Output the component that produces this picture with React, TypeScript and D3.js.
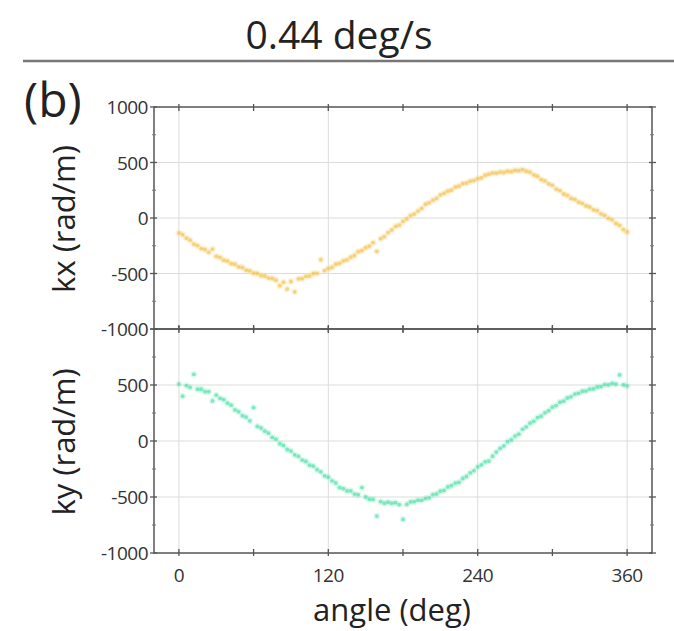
import React from 'react';
import * as d3 from 'd3';

const angles = [
  0, 3, 6, 9, 12, 15, 18, 21, 24, 27, 30, 33, 36, 39, 42, 45, 48, 51, 54, 57,
  60, 63, 66, 69, 72, 75, 78, 81, 84, 87, 90, 93, 96, 99, 102, 105, 108, 111, 114, 117,
  120, 123, 126, 129, 132, 135, 138, 141, 144, 147, 150, 153, 156, 159, 162, 165, 168, 171, 174, 177,
  180, 183, 186, 189, 192, 195, 198, 201, 204, 207, 210, 213, 216, 219, 222, 225, 228, 231, 234, 237,
  240, 243, 246, 249, 252, 255, 258, 261, 264, 267, 270, 273, 276, 279, 282, 285, 288, 291, 294, 297,
  300, 303, 306, 309, 312, 315, 318, 321, 324, 327, 330, 333, 336, 339, 342, 345, 348, 351, 354, 357,
  360,
];

const kxValues = [
  -135, -150, -182, -200, -236, -248, -275, -284, -309, -280, -345, -356, -380, -388, -412, -416, -440, -446, -470, -476,
  -497, -500, -520, -522, -541, -545, -560, -610, -578, -640, -572, -665, -548, -547, -525, -522, -500, -498, -375, -474,
  -455, -445, -416, -408, -386, -378, -352, -338, -304, -293, -268, -253, -221, -300, -186, -168, -131, -108, -76, -65,
  -31, -8, 22, 35, 62, 86, 124, 137, 161, 176, 209, 222, 242, 252, 279, 287, 309, 315, 332, 337,
  354, 362, 386, 395, 407, 403, 414, 410, 422, 417, 429, 426, 436, 421, 414, 388, 376, 346, 334, 308,
  294, 261, 247, 216, 204, 176, 167, 143, 132, 108, 99, 74, 66, 38, 24, -4, -16, -49, -66, -104,
  -126,
];

const kyValues = [
  508, 400, 495, 478, 595, 462, 463, 440, 441, 358, 410, 380, 370, 338, 320, 278, 262, 226, 214, 180,
  298, 130, 116, 88, 70, 32, 16, -24, -40, -76, -90, -124, -137, -170, -183, -216, -224, -256, -275, -311,
  -323, -356, -375, -416, -425, -446, -446, -474, -480, -416, -500, -520, -522, -670, -541, -556, -546, -555, -551, -568,
  -700, -566, -544, -542, -528, -530, -513, -507, -478, -473, -448, -442, -410, -399, -376, -370, -335, -317, -284, -265,
  -231, -214, -186, -179, -136, -99, -66, -44, -6, 11, 44, 61, 104, 126, 159, 176, 209, 221, 252, 271,
  302, 316, 346, 356, 384, 394, 419, 426, 444, 446, 464, 465, 482, 486, 504, 502, 514, 508, 590, 502,
  493,
];

const xTickLabels = [0, 120, 240, 360];
const xTicks = [0, 60, 120, 180, 240, 300, 360];
const yMajorTicks = [1000, 500, 0, -500, -1000];
const yMinorTicks = [750, 250, -250, -750];
const yGrid = [500, 0, -500];
const topLabels = [1000, 500, 0, -500, -1000];
const bottomLabels = [500, 0, -500, -1000];

const titleText = '0.44 deg/s';
const panelTag = '(b)';
const kxLabel = 'kx (rad/m)';
const kyLabel = 'ky (rad/m)';
const xLabel = 'angle (deg)';

const W = 674;
const H = 631;
const FONT = "'Open Sans', 'DejaVu Sans', sans-serif";

const x = d3.scaleLinear().domain([-20, 380]).range([154, 652]);

function Panel({ top, bottom, values, color, halo, labels }) {
  const y = d3.scaleLinear().domain([-1000, 1000]).range([bottom, top]);
  const [x0, x1] = x.range();
  const pts = angles.map((a, i) => [a, values[i]]);
  return (
    <g>
      {xTickLabels.map((t) => (
        <line key={'gx' + t} x1={x(t)} x2={x(t)} y1={top} y2={bottom} stroke="#dcdcdc" strokeWidth={1} />
      ))}
      {yGrid.map((t) => (
        <line key={'gy' + t} x1={x0} x2={x1} y1={y(t)} y2={y(t)} stroke="#dcdcdc" strokeWidth={1} />
      ))}
      {pts.map((p, i) => (
        <circle key={'h' + i} cx={x(p[0])} cy={y(p[1])} r={3.4} fill={halo} fillOpacity={0.35} />
      ))}
      {pts.map((p, i) => (
        <circle key={i} cx={x(p[0])} cy={y(p[1])} r={1.9} fill={color} fillOpacity={0.6} />
      ))}
      <rect x={x0} y={top} width={x1 - x0} height={bottom - top} fill="none" stroke="#555" strokeWidth={1.5} />
      {xTicks.map((t) => (
        <g key={'xt' + t}>
          <line x1={x(t)} x2={x(t)} y1={top - 3} y2={top + 4} stroke="#555" strokeWidth={1.3} />
          <line x1={x(t)} x2={x(t)} y1={bottom - 4} y2={bottom + 3} stroke="#555" strokeWidth={1.3} />
        </g>
      ))}
      {yMajorTicks.map((t) => (
        <g key={'ym' + t}>
          <line x1={x0 - 4} x2={x0 + 3} y1={y(t)} y2={y(t)} stroke="#555" strokeWidth={1.3} />
          <line x1={x1 - 3} x2={x1 + 4} y1={y(t)} y2={y(t)} stroke="#555" strokeWidth={1.3} />
        </g>
      ))}
      {yMinorTicks.map((t) => (
        <g key={'yn' + t}>
          <line x1={x0 - 2} x2={x0 + 2} y1={y(t)} y2={y(t)} stroke="#777" strokeWidth={1} />
          <line x1={x1 - 2} x2={x1 + 2} y1={y(t)} y2={y(t)} stroke="#777" strokeWidth={1} />
        </g>
      ))}
      {labels.map((t) => (
        <text
          key={'yl' + t}
          x={x0 - 6}
          y={y(t) + 7}
          textAnchor="end"
          fontSize={19}
          fontFamily={FONT}
          fill="#333"
          letterSpacing={-0.5}
        >
          {t}
        </text>
      ))}
    </g>
  );
}

export default function App() {
  return (
    <svg
      width={W}
      height={H}
      viewBox={`0 0 ${W} ${H}`}
      style={{ position: 'absolute', left: 0, top: 0, background: '#fff' }}
    >
      <rect x={0} y={0} width={W} height={H} fill="#fff" />
      <text x={339} y={49} textAnchor="middle" fontSize={39} fontFamily={FONT} fill="#222">
        {titleText}
      </text>
      <line x1={23} x2={W} y1={61} y2={61} stroke="#777" strokeWidth={2.5} />
      <text x={24} y={117} fontSize={48} fontFamily={FONT} fill="#222">
        {panelTag}
      </text>
      <Panel top={107} bottom={329} values={kxValues} color="#f0bd45" halo="#f8dc96" labels={topLabels} />
      <Panel top={329} bottom={553} values={kyValues} color="#45d9a2" halo="#9ff0d0" labels={bottomLabels} />
      {xTickLabels.map((t) => (
        <text key={'xl' + t} x={x(t)} y={582} textAnchor="middle" fontSize={19} fontFamily={FONT} fill="#333" letterSpacing={-0.5}>
          {t}
        </text>
      ))}
      <text transform="translate(75,219) rotate(-90)" textAnchor="middle" fontSize={31} fontFamily={FONT} fill="#222">
        {kxLabel}
      </text>
      <text transform="translate(75,442) rotate(-90)" textAnchor="middle" fontSize={31} fontFamily={FONT} fill="#222">
        {kyLabel}
      </text>
      <text x={392} y={621} textAnchor="middle" fontSize={31} fontFamily={FONT} fill="#222">
        {xLabel}
      </text>
    </svg>
  );
}
